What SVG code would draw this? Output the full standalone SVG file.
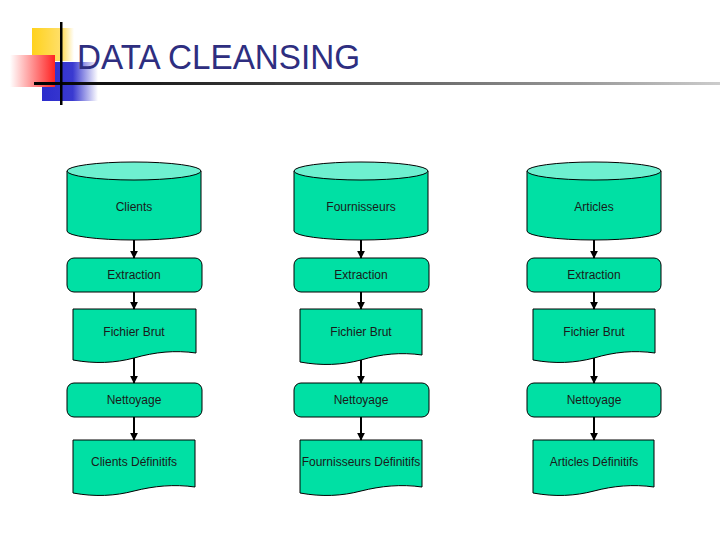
<svg xmlns="http://www.w3.org/2000/svg" width="720" height="540" viewBox="0 0 720 540">
<defs>
<style>
.box{fill:#00E0A4;stroke:#000;stroke-width:1}
.top{fill:#6EF0D0;stroke:#000;stroke-width:1}
.lbl{font-family:"Liberation Sans",Arial,sans-serif;font-size:12px;fill:#1a1a1a;text-anchor:middle}
.con line{stroke:#000;stroke-width:2}
</style>
<marker id="ah" viewBox="0 0 10 10" refX="9" refY="5" markerWidth="4" markerHeight="4" orient="auto" markerUnits="strokeWidth">
<path d="M0,0 L10,5 L0,10 Z" fill="#000"/>
</marker>
<linearGradient id="red" x1="0" y1="0" x2="1" y2="0">
<stop offset="0" stop-color="#fff"/>
<stop offset="1" stop-color="#f22"/>
</linearGradient>
<linearGradient id="blue" x1="0" y1="0" x2="1" y2="0">
<stop offset="0" stop-color="#2c2ccc"/>
<stop offset="0.55" stop-color="#3a3ad0"/>
<stop offset="1" stop-color="#fff"/>
</linearGradient>
<linearGradient id="yel" x1="0" y1="0" x2="1" y2="0">
<stop offset="0" stop-color="#ffd21c"/>
<stop offset="0.75" stop-color="#ffe070"/>
<stop offset="1" stop-color="#fff"/>
</linearGradient>
<linearGradient id="hl" x1="0" y1="0" x2="1" y2="0">
<stop offset="0" stop-color="#000"/>
<stop offset="0.3" stop-color="#333"/>
<stop offset="0.8" stop-color="#999"/>
<stop offset="1" stop-color="#ccc"/>
</linearGradient>
</defs>
<rect width="720" height="540" fill="#fff"/>
<g id="title-deco">
<rect x="32" y="28" width="42" height="33" fill="url(#yel)"/>
<rect x="42" y="62" width="56" height="39" fill="url(#blue)"/>
<rect x="10" y="55" width="45" height="32" fill="url(#red)"/>
<rect x="34" y="82" width="686" height="3" fill="url(#hl)"/>
<rect x="60" y="22" width="2.5" height="83" fill="#000"/>
</g>
<text id="title" x="77" y="69" font-family="Liberation Sans,Arial,sans-serif" font-size="35" fill="#2E2E80" textLength="283" lengthAdjust="spacingAndGlyphs">DATA CLEANSING</text>

<g id="clients"><path class="box" d="M67,171 V231 A67,9 0 0 0 201,231 V171 Z"/><ellipse class="top" cx="134" cy="171" rx="67" ry="9"/><text class="lbl" x="134" y="211">Clients</text></g>
<g id="fournisseurs"><path class="box" d="M294,171 V231 A67,9 0 0 0 428,231 V171 Z"/><ellipse class="top" cx="361" cy="171" rx="67" ry="9"/><text class="lbl" x="361" y="211">Fournisseurs</text></g>
<g id="articles"><path class="box" d="M527,171 V231 A67,9 0 0 0 661,231 V171 Z"/><ellipse class="top" cx="594" cy="171" rx="67" ry="9"/><text class="lbl" x="594" y="211">Articles</text></g>

<g id="extraction1"><rect class="box" x="67" y="258" width="135" height="34" rx="7"/><text class="lbl" x="134" y="279">Extraction</text></g>
<g id="extraction2"><rect class="box" x="294" y="258" width="135" height="34" rx="7"/><text class="lbl" x="361" y="279">Extraction</text></g>
<g id="extraction3"><rect class="box" x="527" y="258" width="134" height="34" rx="7"/><text class="lbl" x="594" y="279">Extraction</text></g>

<g id="brut1"><path class="box" d="M73,309 H196 V353 C175,350 155,352 134,358 C115,363 95,364 73,360 Z"/><text class="lbl" x="134" y="336">Fichier Brut</text></g>
<g id="brut2"><path class="box" d="M300,309 H422 V355 C401,352 381,354 361,360 C342,365 322,366 300,362 Z"/><text class="lbl" x="361" y="336">Fichier Brut</text></g>
<g id="brut3"><path class="box" d="M533,309 H655 V353 C634,350 614,352 594,358 C575,363 555,364 533,360 Z"/><text class="lbl" x="594" y="336">Fichier Brut</text></g>

<g id="nettoyage1"><rect class="box" x="67" y="383" width="135" height="34" rx="7"/><text class="lbl" x="134" y="404">Nettoyage</text></g>
<g id="nettoyage2"><rect class="box" x="294" y="383" width="135" height="34" rx="7"/><text class="lbl" x="361" y="404">Nettoyage</text></g>
<g id="nettoyage3"><rect class="box" x="527" y="383" width="134" height="34" rx="7"/><text class="lbl" x="594" y="404">Nettoyage</text></g>

<g id="def1"><path class="box" d="M73,440 H195 V487 C174,484 154,486 134,491 C115,496 95,497 73,493 Z"/><text class="lbl" x="134" y="466">Clients Définitifs</text></g>
<g id="def2"><path class="box" d="M300,440 H422 V487 C401,484 381,486 361,491 C342,496 322,497 300,493 Z"/><text class="lbl" x="361" y="466">Fournisseurs Définitifs</text></g>
<g id="def3"><path class="box" d="M533,440 H654 V487 C633,484 613,486 594,491 C575,496 555,497 533,493 Z"/><text class="lbl" x="594" y="466">Articles Définitifs</text></g>

<g id="connectors" class="con">
<line x1="134" y1="240" x2="134" y2="258" marker-end="url(#ah)"/>
<line x1="361" y1="240" x2="361" y2="258" marker-end="url(#ah)"/>
<line x1="594" y1="240" x2="594" y2="258" marker-end="url(#ah)"/>
<line x1="134" y1="292" x2="134" y2="309" marker-end="url(#ah)"/>
<line x1="361" y1="292" x2="361" y2="309" marker-end="url(#ah)"/>
<line x1="594" y1="292" x2="594" y2="309" marker-end="url(#ah)"/>
<line x1="134" y1="358" x2="134" y2="383" marker-end="url(#ah)"/>
<line x1="361" y1="360" x2="361" y2="383" marker-end="url(#ah)"/>
<line x1="594" y1="358" x2="594" y2="383" marker-end="url(#ah)"/>
<line x1="134" y1="417" x2="134" y2="440" marker-end="url(#ah)"/>
<line x1="361" y1="417" x2="361" y2="440" marker-end="url(#ah)"/>
<line x1="594" y1="417" x2="594" y2="440" marker-end="url(#ah)"/>
</g>
</svg>
